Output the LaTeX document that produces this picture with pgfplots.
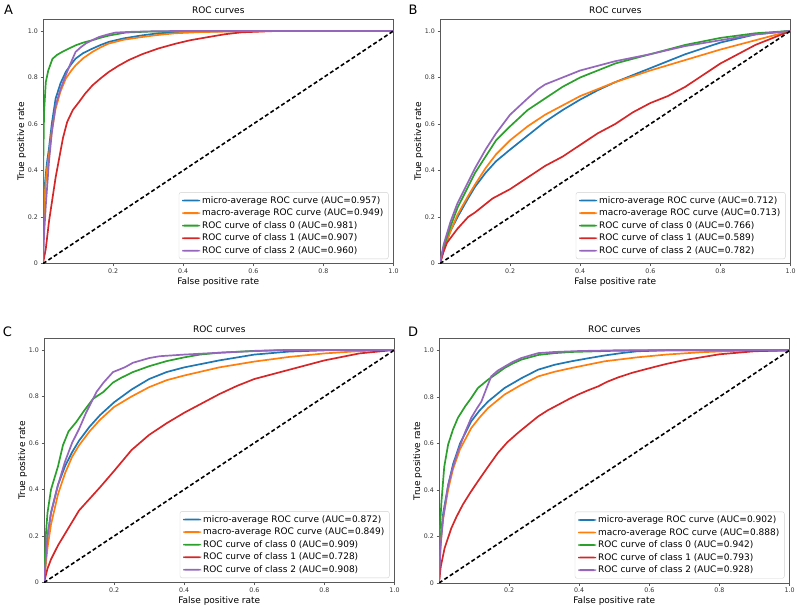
\documentclass[border=0pt]{standalone}
\usepackage{fontspec}
\setmainfont{DejaVu Sans}
\usepackage{pgfplots}
\pgfplotsset{compat=1.18}
\definecolor{cB}{HTML}{1F77B4}
\definecolor{cO}{HTML}{FF7F0E}
\definecolor{cG}{HTML}{2CA02C}
\definecolor{cR}{HTML}{D62728}
\definecolor{cP}{HTML}{9467BD}
\pgfplotsset{
  rocax/.style={
    scale only axis, width=350.5pt, height=244.3pt, anchor=north west,
    xmin=0, xmax=1, ymin=0, ymax=1.05,
    axis line style={black!65, line width=0.7pt},
    xtick={0.2,0.4,0.6,0.8,1.0}, xticklabels={0.2,0.4,0.6,0.8,1.0},
    ytick={0,0.2,0.4,0.6,0.8,1.0}, yticklabels={0,0.2,0.4,0.6,0.8,1.0},
    tick align=outside, tick pos=left, major tick length=2.5pt,
    tick style={black!65, line width=0.6pt},
    ticklabel style={font=\fontsize{6.3}{7}\selectfont, text=black!80},
    xticklabel style={yshift=1pt}, yticklabel style={xshift=1pt},
    title={ROC curves}, title style={font=\fontsize{9}{10}\selectfont, yshift=-3.5pt},
    xlabel={False positive rate}, ylabel={True positive rate},
    label style={font=\fontsize{9}{10}\selectfont},
    xlabel style={yshift=3pt}, ylabel style={yshift=-5pt},
    legend style={at={(1,0)}, xshift=-5pt, yshift=4.5pt, anchor=south east,
      draw=black!18, rounded corners=2pt, fill=white,
      font=\fontsize{9}{10.5}\selectfont, cells={anchor=west},
      inner xsep=3pt, inner ysep=2pt, row sep=0.2pt},
    legend image code/.code={\fill[#1, draw=none] (0pt,-0.9pt) rectangle (18pt,0.9pt);},
    every axis plot/.append style={line width=1.7pt, line join=round},
  },
  diag/.style={black, dashed, dash pattern=on 4pt off 2.5pt, line width=1.6pt, forget plot},
}
\begin{document}
\begin{tikzpicture}
\useasboundingbox (0,0) rectangle (797pt,607pt);
\node[font=\fontsize{13}{14}\selectfont] at (8.5pt,597.5pt) {A};
\node[font=\fontsize{13}{14}\selectfont] at (413pt,597pt) {B};
\node[font=\fontsize{13}{14}\selectfont] at (7.5pt,275pt) {C};
\node[font=\fontsize{13}{14}\selectfont] at (413pt,275pt) {D};
% ---------------- A
\begin{axis}[rocax, at={(43pt,587.7pt)}]
\addplot[cB] coordinates {(0,0) (0.002,0.2) (0.006,0.35) (0.011,0.43) (0.017,0.494) (0.025,0.6) (0.036,0.709) (0.05,0.775) (0.065,0.824) (0.08,0.856) (0.093,0.881) (0.115,0.905) (0.141,0.924) (0.165,0.94) (0.188,0.953) (0.23,0.968) (0.283,0.981) (0.33,0.99) (0.4,0.995) (0.5,0.998) (0.6,1) (1,1)};
\addlegendentry{micro-average ROC curve (AUC=0.957)}
\addplot[cO] coordinates {(0,0) (0.002,0.18) (0.006,0.32) (0.011,0.4) (0.017,0.466) (0.025,0.57) (0.036,0.666) (0.05,0.74) (0.065,0.795) (0.08,0.828) (0.093,0.852) (0.115,0.883) (0.141,0.91) (0.165,0.93) (0.188,0.946) (0.23,0.962) (0.283,0.974) (0.33,0.983) (0.378,0.99) (0.45,0.995) (0.55,0.998) (0.7,1) (1,1)};
\addlegendentry{macro-average ROC curve (AUC=0.949)}
\addplot[cG] coordinates {(0,0) (0.001,0.45) (0.003,0.65) (0.008,0.78) (0.015,0.83) (0.027,0.88) (0.04,0.897) (0.055,0.91) (0.075,0.925) (0.093,0.938) (0.115,0.95) (0.141,0.96) (0.165,0.971) (0.188,0.98) (0.236,0.993) (0.3,0.997) (0.4,0.999) (0.5,1) (1,1)};
\addlegendentry{ROC curve of class 0 (AUC=0.981)}
\addplot[cR] coordinates {(0,0) (0.008,0.064) (0.017,0.18) (0.027,0.28) (0.036,0.37) (0.046,0.451) (0.057,0.54) (0.069,0.609) (0.085,0.66) (0.103,0.695) (0.12,0.73) (0.141,0.766) (0.165,0.797) (0.188,0.824) (0.215,0.85) (0.245,0.875) (0.283,0.9) (0.33,0.925) (0.378,0.945) (0.42,0.96) (0.473,0.974) (0.52,0.986) (0.567,0.994) (0.65,0.999) (0.75,1) (1,1)};
\addlegendentry{ROC curve of class 1 (AUC=0.907)}
\addplot[cP] coordinates {(0,0) (0.003,0.12) (0.008,0.25) (0.017,0.437) (0.025,0.56) (0.036,0.68) (0.05,0.75) (0.065,0.81) (0.08,0.865) (0.093,0.91) (0.108,0.93) (0.122,0.946) (0.14,0.96) (0.16,0.974) (0.185,0.985) (0.207,0.993) (0.25,0.996) (0.3,0.998) (0.4,1) (1,1)};
\addlegendentry{ROC curve of class 2 (AUC=0.960)}
\addplot[diag] coordinates {(0,0) (1,1)};
\end{axis}
% ---------------- B
\begin{axis}[rocax, at={(440pt,587.7pt)}]
\addplot[cB] coordinates {(0,0) (0.01,0.06) (0.03,0.14) (0.05,0.2) (0.08,0.28) (0.1,0.33) (0.13,0.39) (0.16,0.44) (0.2,0.49) (0.25,0.55) (0.3,0.61) (0.35,0.66) (0.4,0.705) (0.45,0.745) (0.5,0.78) (0.6,0.84) (0.7,0.9) (0.8,0.95) (0.9,0.985) (1,1)};
\addlegendentry{micro-average ROC curve (AUC=0.712)}
\addplot[cO] coordinates {(0,0) (0.01,0.06) (0.03,0.14) (0.05,0.21) (0.08,0.29) (0.1,0.34) (0.13,0.41) (0.16,0.47) (0.2,0.53) (0.25,0.59) (0.3,0.64) (0.35,0.68) (0.4,0.72) (0.5,0.78) (0.6,0.83) (0.7,0.875) (0.8,0.92) (0.9,0.96) (1,1)};
\addlegendentry{macro-average ROC curve (AUC=0.713)}
\addplot[cG] coordinates {(0,0) (0.01,0.07) (0.03,0.16) (0.05,0.24) (0.08,0.33) (0.1,0.39) (0.13,0.46) (0.16,0.53) (0.2,0.59) (0.25,0.66) (0.3,0.71) (0.35,0.76) (0.4,0.8) (0.45,0.83) (0.5,0.86) (0.55,0.88) (0.6,0.9) (0.7,0.94) (0.8,0.97) (0.9,0.99) (1,1)};
\addlegendentry{ROC curve of class 0 (AUC=0.766)}
\addplot[cR] coordinates {(0,0) (0.01,0.05) (0.02,0.09) (0.05,0.15) (0.08,0.2) (0.1,0.22) (0.15,0.28) (0.2,0.32) (0.25,0.37) (0.3,0.42) (0.35,0.46) (0.4,0.51) (0.45,0.56) (0.5,0.6) (0.55,0.65) (0.6,0.69) (0.65,0.72) (0.7,0.76) (0.75,0.81) (0.8,0.86) (0.85,0.9) (0.9,0.94) (0.95,0.97) (1,1)};
\addlegendentry{ROC curve of class 1 (AUC=0.589)}
\addplot[cP] coordinates {(0,0) (0.01,0.08) (0.03,0.18) (0.05,0.26) (0.08,0.35) (0.1,0.41) (0.13,0.49) (0.16,0.56) (0.2,0.64) (0.25,0.71) (0.28,0.75) (0.3,0.77) (0.35,0.8) (0.4,0.83) (0.45,0.85) (0.5,0.87) (0.6,0.9) (0.7,0.935) (0.8,0.96) (0.9,0.985) (1,1)};
\addlegendentry{ROC curve of class 2 (AUC=0.782)}
\addplot[diag] coordinates {(0,0) (1,1)};
\end{axis}
% ---------------- C
\begin{axis}[rocax, at={(44pt,268.7pt)}]
\addplot[cB] coordinates {(0,0) (0.01,0.2) (0.02,0.3) (0.04,0.42) (0.06,0.5) (0.08,0.56) (0.1,0.61) (0.13,0.67) (0.16,0.72) (0.2,0.775) (0.25,0.83) (0.3,0.875) (0.35,0.905) (0.4,0.925) (0.5,0.955) (0.6,0.98) (0.7,0.993) (0.8,0.998) (1,1)};
\addlegendentry{micro-average ROC curve (AUC=0.872)}
\addplot[cO] coordinates {(0,0) (0.01,0.15) (0.02,0.25) (0.04,0.38) (0.06,0.47) (0.08,0.54) (0.1,0.59) (0.13,0.65) (0.16,0.7) (0.2,0.755) (0.25,0.8) (0.3,0.84) (0.35,0.87) (0.4,0.89) (0.5,0.925) (0.6,0.95) (0.7,0.97) (0.8,0.985) (0.9,0.995) (1,1)};
\addlegendentry{macro-average ROC curve (AUC=0.849)}
\addplot[cG] coordinates {(0,0) (0.005,0.2) (0.01,0.3) (0.02,0.4) (0.04,0.5) (0.054,0.59) (0.07,0.65) (0.092,0.69) (0.115,0.74) (0.14,0.79) (0.17,0.82) (0.197,0.86) (0.22,0.88) (0.254,0.905) (0.3,0.93) (0.35,0.952) (0.4,0.968) (0.445,0.98) (0.5,0.988) (0.6,0.996) (0.7,1) (1,1)};
\addlegendentry{ROC curve of class 0 (AUC=0.909)}
\addplot[cR] coordinates {(0,0) (0.01,0.06) (0.02,0.1) (0.04,0.16) (0.06,0.21) (0.08,0.26) (0.1,0.31) (0.13,0.36) (0.16,0.41) (0.2,0.48) (0.25,0.57) (0.3,0.635) (0.35,0.685) (0.4,0.73) (0.45,0.77) (0.5,0.81) (0.55,0.845) (0.6,0.875) (0.7,0.915) (0.8,0.955) (0.9,0.985) (1,1)};
\addlegendentry{ROC curve of class 1 (AUC=0.728)}
\addplot[cP] coordinates {(0,0) (0.01,0.2) (0.02,0.3) (0.04,0.42) (0.06,0.52) (0.08,0.6) (0.1,0.66) (0.12,0.73) (0.15,0.82) (0.17,0.86) (0.197,0.905) (0.23,0.925) (0.254,0.945) (0.3,0.965) (0.33,0.973) (0.4,0.98) (0.5,0.988) (0.6,0.995) (0.7,1) (1,1)};
\addlegendentry{ROC curve of class 2 (AUC=0.908)}
\addplot[diag] coordinates {(0,0) (1,1)};
\end{axis}
% ---------------- D
\begin{axis}[rocax, at={(439pt,268.3pt)}]
\addplot[cB] coordinates {(0,0) (0.005,0.2) (0.012,0.3) (0.026,0.42) (0.04,0.51) (0.06,0.6) (0.092,0.695) (0.115,0.74) (0.14,0.78) (0.187,0.838) (0.235,0.88) (0.283,0.917) (0.33,0.938) (0.378,0.953) (0.43,0.967) (0.473,0.978) (0.52,0.988) (0.566,0.996) (0.65,1) (1,1)};
\addlegendentry{micro-average ROC curve (AUC=0.902)}
\addplot[cO] coordinates {(0,0) (0.005,0.18) (0.012,0.28) (0.026,0.4) (0.04,0.49) (0.06,0.575) (0.092,0.666) (0.115,0.71) (0.14,0.752) (0.187,0.81) (0.235,0.852) (0.283,0.888) (0.33,0.908) (0.378,0.924) (0.473,0.953) (0.566,0.97) (0.65,0.982) (0.75,0.992) (0.85,0.998) (1,1)};
\addlegendentry{macro-average ROC curve (AUC=0.888)}
\addplot[cG] coordinates {(0,0) (0.002,0.22) (0.007,0.35) (0.015,0.5) (0.026,0.595) (0.04,0.66) (0.054,0.71) (0.075,0.76) (0.092,0.795) (0.111,0.838) (0.14,0.874) (0.165,0.9) (0.187,0.924) (0.21,0.943) (0.235,0.96) (0.283,0.98) (0.33,0.988) (0.378,0.993) (0.5,0.998) (0.6,1) (1,1)};
\addlegendentry{ROC curve of class 0 (AUC=0.942)}
\addplot[cR] coordinates {(0,0) (0.005,0.07) (0.016,0.15) (0.035,0.235) (0.05,0.285) (0.068,0.337) (0.09,0.39) (0.111,0.437) (0.14,0.5) (0.168,0.559) (0.195,0.605) (0.225,0.645) (0.255,0.682) (0.283,0.716) (0.31,0.742) (0.34,0.766) (0.37,0.79) (0.397,0.81) (0.425,0.828) (0.454,0.845) (0.48,0.865) (0.51,0.883) (0.55,0.903) (0.6,0.923) (0.65,0.942) (0.7,0.958) (0.8,0.983) (0.9,0.996) (1,1)};
\addlegendentry{ROC curve of class 1 (AUC=0.793)}
\addplot[cP] coordinates {(0,0) (0.004,0.15) (0.012,0.28) (0.026,0.42) (0.04,0.5) (0.054,0.566) (0.075,0.65) (0.092,0.71) (0.108,0.75) (0.121,0.78) (0.135,0.835) (0.149,0.888) (0.167,0.912) (0.187,0.93) (0.21,0.95) (0.235,0.967) (0.26,0.978) (0.283,0.988) (0.33,0.993) (0.4,0.997) (0.5,1) (1,1)};
\addlegendentry{ROC curve of class 2 (AUC=0.928)}
\addplot[diag] coordinates {(0,0) (1,1)};
\end{axis}
\end{tikzpicture}
\end{document}
